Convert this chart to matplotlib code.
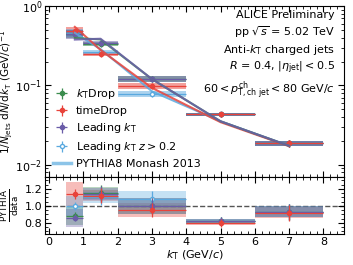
import numpy as np
import matplotlib.pyplot as plt
from matplotlib.ticker import MultipleLocator, LogLocator, NullFormatter

# bins in kT (GeV/c)
bin_lo = np.array([0.5, 1.0, 2.0, 4.0, 6.0])
bin_hi = np.array([1.0, 2.0, 4.0, 6.0, 8.0])
kt = np.array([0.75, 1.5, 3.0, 5.0, 7.0])

# measured 1/Njets dN/dkT
ktdrop = np.array([0.45, 0.33, 0.12, 0.043, 0.0186])
timedrop = np.array([0.48, 0.25, 0.098, 0.043, 0.0186])
leading = np.array([0.44, 0.34, 0.12, 0.043, 0.0186])
leading_z = np.array([0.46, 0.26, 0.078, 0.043, 0.0186])

# PYTHIA / data
r_ktdrop = np.array([0.88, 1.15, 1.00, 0.82, 0.93])
r_timedrop = np.array([1.14, 1.12, 0.95, 0.80, 0.92])
r_leading = np.array([0.86, 1.14, 1.00, 0.82, 0.93])
r_leading_z = np.array([1.00, 1.10, 1.08, 0.82, 0.93])

# relative uncertainties
sys_rel = np.array([0.12, 0.06, 0.09, 0.035, 0.07])
stat_rel = np.array([0.05, 0.08, 0.09, 0.06, 0.10])

labels = [r'$k_{\rm T}$Drop', 'timeDrop', r'Leading $k_{\rm T}$', r'Leading $k_{\rm T}$ $z>0.2$']
colors = ['#3b8d4e', '#e8433b', '#6a5ca8', '#5aa9df']
data = [ktdrop, timedrop, leading, leading_z]
ratios = [r_ktdrop, r_timedrop, r_leading, r_leading_z]
faces = [colors[0], colors[1], colors[2], 'white']
band_order = [1, 0, 3, 2]   # purple band on top
point_order = [3, 0, 2, 1]  # red points on top
line_order = [3, 1, 0, 2]   # purple curve on top

plt.rcParams['font.size'] = 8
plt.rcParams['mathtext.fontset'] = 'dejavusans'

fig = plt.figure(figsize=(3.53, 2.65), dpi=100)
ax = fig.add_axes([0.1275, 0.332, 0.847, 0.645])
axr = fig.add_axes([0.1275, 0.117, 0.847, 0.215], sharex=ax)

width = bin_hi - bin_lo

# systematic boxes
for k, i in enumerate(band_order):
    y, r, c = data[i], ratios[i], colors[i]
    ax.bar(bin_lo, 2 * sys_rel * y, bottom=y * (1 - sys_rel), width=width,
           align='edge', color=c, alpha=0.5, lw=0, zorder=2 + k)
    axr.bar(bin_lo, 2 * sys_rel * r, bottom=r * (1 - sys_rel), width=width,
            align='edge', color=c, alpha=0.35, lw=0, zorder=2 + k)

# data points
handles = [None] * 4
for k, i in enumerate(point_order):
    y, r, c, fc = data[i], ratios[i], colors[i], faces[i]
    handles[i] = ax.errorbar(kt, y, xerr=width / 2, yerr=stat_rel * y, fmt='o', ms=3,
                             color=c, mfc=fc, lw=0.9, zorder=7 + k)
    axr.errorbar(kt, r, xerr=width / 2, yerr=stat_rel * r, fmt='o', ms=3,
                 color=c, mfc=fc, lw=0.9, zorder=7 + k)

# PYTHIA curves
for k, i in enumerate(line_order):
    ax.plot(kt, data[i] * ratios[i], color=colors[i], lw=1.5, alpha=0.85, zorder=12 + k)

pyth, = ax.plot([], [], color='#8cc4e8', lw=2.5)
ax.legend(handles + [pyth], labels + ['PYTHIA8 Monash 2013'], loc='lower left',
          frameon=False, fontsize=8, handlelength=1.6, labelspacing=0.45,
          borderaxespad=0.3, handletextpad=0.5)

ax.set_yscale('log')
ax.set_ylim(0.007, 1.0)
ax.set_xlim(-0.12, 8.6)
ax.set_ylabel(r'$1/N_{\rm jets}\ {\rm d}N/{\rm d}k_{\rm T}$ (GeV/$c$)$^{-1}$', fontsize=7.5, labelpad=0)
ax.yaxis.set_major_locator(LogLocator(base=10))
ax.yaxis.set_minor_locator(LogLocator(base=10, subs=np.arange(2, 10)))
ax.yaxis.set_minor_formatter(NullFormatter())
ax.tick_params(labelbottom=False)

ax.text(0.97, 0.975,
        'ALICE Preliminary\n'
        r'pp $\sqrt{s}$ = 5.02 TeV' '\n'
        r'Anti-$k_{\rm T}$ charged jets' '\n'
        r'$R$ = 0.4, $|\eta_{\rm jet}| < 0.5$' '\n'
        r'$60 < p_{\rm T,ch\ jet}^{\rm ch} < 80$ GeV/$c$',
        transform=ax.transAxes, ha='right', va='top', fontsize=8, linespacing=1.3)

axr.axhline(1.0, color='#555555', ls='--', lw=1.0, zorder=1)
axr.set_ylim(0.67, 1.34)
axr.set_yticks([0.8, 1.0, 1.2])
axr.yaxis.set_minor_locator(MultipleLocator(0.05))
axr.xaxis.set_major_locator(MultipleLocator(1))
axr.xaxis.set_minor_locator(MultipleLocator(0.2))
axr.set_xlabel(r'$k_{\rm T}$ (GeV/$c$)', labelpad=1)
axr.set_ylabel(r'$\frac{\rm PYTHIA}{\rm data}$', fontsize=9, labelpad=2)

for a in (ax, axr):
    a.tick_params(which='both', direction='in', top=True, right=True, pad=2)
    a.tick_params(which='major', length=4)
    a.tick_params(which='minor', length=2)

fig.align_ylabels([ax, axr])
fig.savefig('out.png', dpi=100)
